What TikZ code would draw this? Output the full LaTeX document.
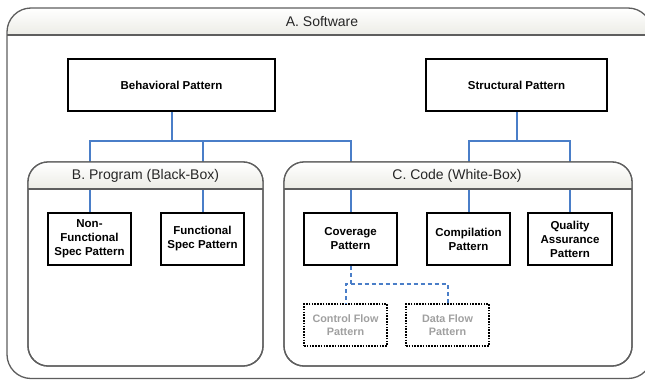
\documentclass[tikz,border=0pt]{standalone}
\usepackage{fontspec}
\setmainfont{Liberation Sans}
\usetikzlibrary{calc}
\pgfdeclarelayer{back}
\pgfdeclarelayer{lines}
\pgfsetlayers{back,lines,main}
\definecolor{conblue}{HTML}{4A7EC8}
\definecolor{framegray}{HTML}{5E5E5E}
\definecolor{hdrgray}{HTML}{ECECE6}
\definecolor{ghost}{HTML}{A0A0A0}
\begin{document}
\begin{tikzpicture}[x=1pt,y=-1pt,
  pbox/.style={draw=black,line width=2pt,fill=white,inner sep=2pt,align=center,
    font=\fontsize{11.5}{14}\selectfont\bfseries,minimum height=52pt},
  gbox/.style={draw=black,line width=1.2pt,dash pattern=on 1.6pt off 1.2pt,fill=white,
    inner sep=2pt,align=center,text=ghost,font=\fontsize{10.8}{12.7}\selectfont\bfseries,
    minimum width=83pt,minimum height=42pt},
  title/.style={font=\fontsize{14}{16}\selectfont,text=black!85},
  frame/.style={draw=framegray,line width=1.3pt},
  conn/.style={draw=conblue,line width=2pt},
  dconn/.style={draw=conblue,line width=2pt,dash pattern=on 4pt off 3pt}]
\useasboundingbox (0,0) rectangle (645,380);

% outer frame A
\begin{pgfonlayer}{back}
\fill[white] (0,0) rectangle (645,380);
\begin{scope}
\clip[rounded corners=24pt] (7,8) rectangle (652,378.5);
\shade[top color=white,bottom color=hdrgray] (7,8) rectangle (652,35);
\end{scope}
\draw[frame,rounded corners=24pt] (7,8) rectangle (652,378.5);
\draw[frame] (7,35) -- (652,35);
\end{pgfonlayer}
\node[title] (tA) at (322,21.5) {A. Software};

% top pattern boxes
\node[pbox,minimum width=207pt] (beh) at (171.5,85) {Behavioral Pattern};
\node[pbox,minimum width=181pt] (str) at (516.5,85) {Structural Pattern};

% containers B and C
\foreach \xa/\xb in {28/263,284/632}{
  \begin{scope}
  \clip[rounded corners=20pt] (\xa,162) rectangle (\xb,366);
  \shade[top color=white,bottom color=hdrgray] (\xa,162) rectangle (\xb,189);
  \end{scope}
  \draw[frame,rounded corners=20pt] (\xa,162) rectangle (\xb,366);
  \draw[frame] (\xa,189) -- (\xb,189);
}
\node[title] (tB) at (145.5,175.5) {B. Program (Black-Box)};
\node[title] (tC) at (457,175.5) {C. Code (White-Box)};

% inner boxes
\node[pbox,minimum width=83pt] (nonf) at (89.5,239) {Non-\\Functional\\Spec Pattern};
\node[pbox,minimum width=83pt] (func) at (202.5,239) {Functional\\Spec Pattern};
\node[pbox,minimum width=93pt] (cov) at (350.5,239) {Coverage\\Pattern};
\node[pbox,minimum width=83pt] (comp) at (468.5,239) {Compilation\\Pattern};
\node[pbox,minimum width=84pt] (qa) at (570,239) {Quality\\Assurance\\Pattern};

\node[gbox] (cf) at (345.5,325) {Control Flow\\Pattern};
\node[gbox] (df) at (447.5,325) {Data Flow\\Pattern};

\coordinate (bus) at (0,141);
\coordinate (dbus) at (0,284);

% connectors (behind container headers)
\begin{pgfonlayer}{lines}
\draw[conn] (beh.south) -- (beh.south |- bus) -| (nonf.north);
\draw[conn] (beh.south |- bus) -| (func.north);
\draw[conn] (beh.south |- bus) -| (cov.north);
\draw[conn] (str.south) -- (str.south |- bus) -| (comp.north);
\draw[conn] (str.south |- bus) -| (qa.north);
\end{pgfonlayer}
% redraw header bands over the connectors
\foreach \xa/\xb in {28/263,284/632}{
  \begin{scope}
  \clip[rounded corners=20pt] (\xa,162) rectangle (\xb,366);
  \shade[top color=white,bottom color=hdrgray] (\xa,162.7) rectangle (\xb,188.3);
  \end{scope}
  \draw[frame,rounded corners=20pt] (\xa,162) rectangle (\xb,366);
  \draw[frame] (\xa,189) -- (\xb,189);
}
\node[title] at (tB) {B. Program (Black-Box)};
\node[title] at (tC) {C. Code (White-Box)};

\draw[dconn] (cov.south) -- (cov.south |- dbus) -- (cf.north |- dbus) -- (cf.north);
\draw[dconn] (cov.south |- dbus) -| (df.north);
\end{tikzpicture}
\end{document}
